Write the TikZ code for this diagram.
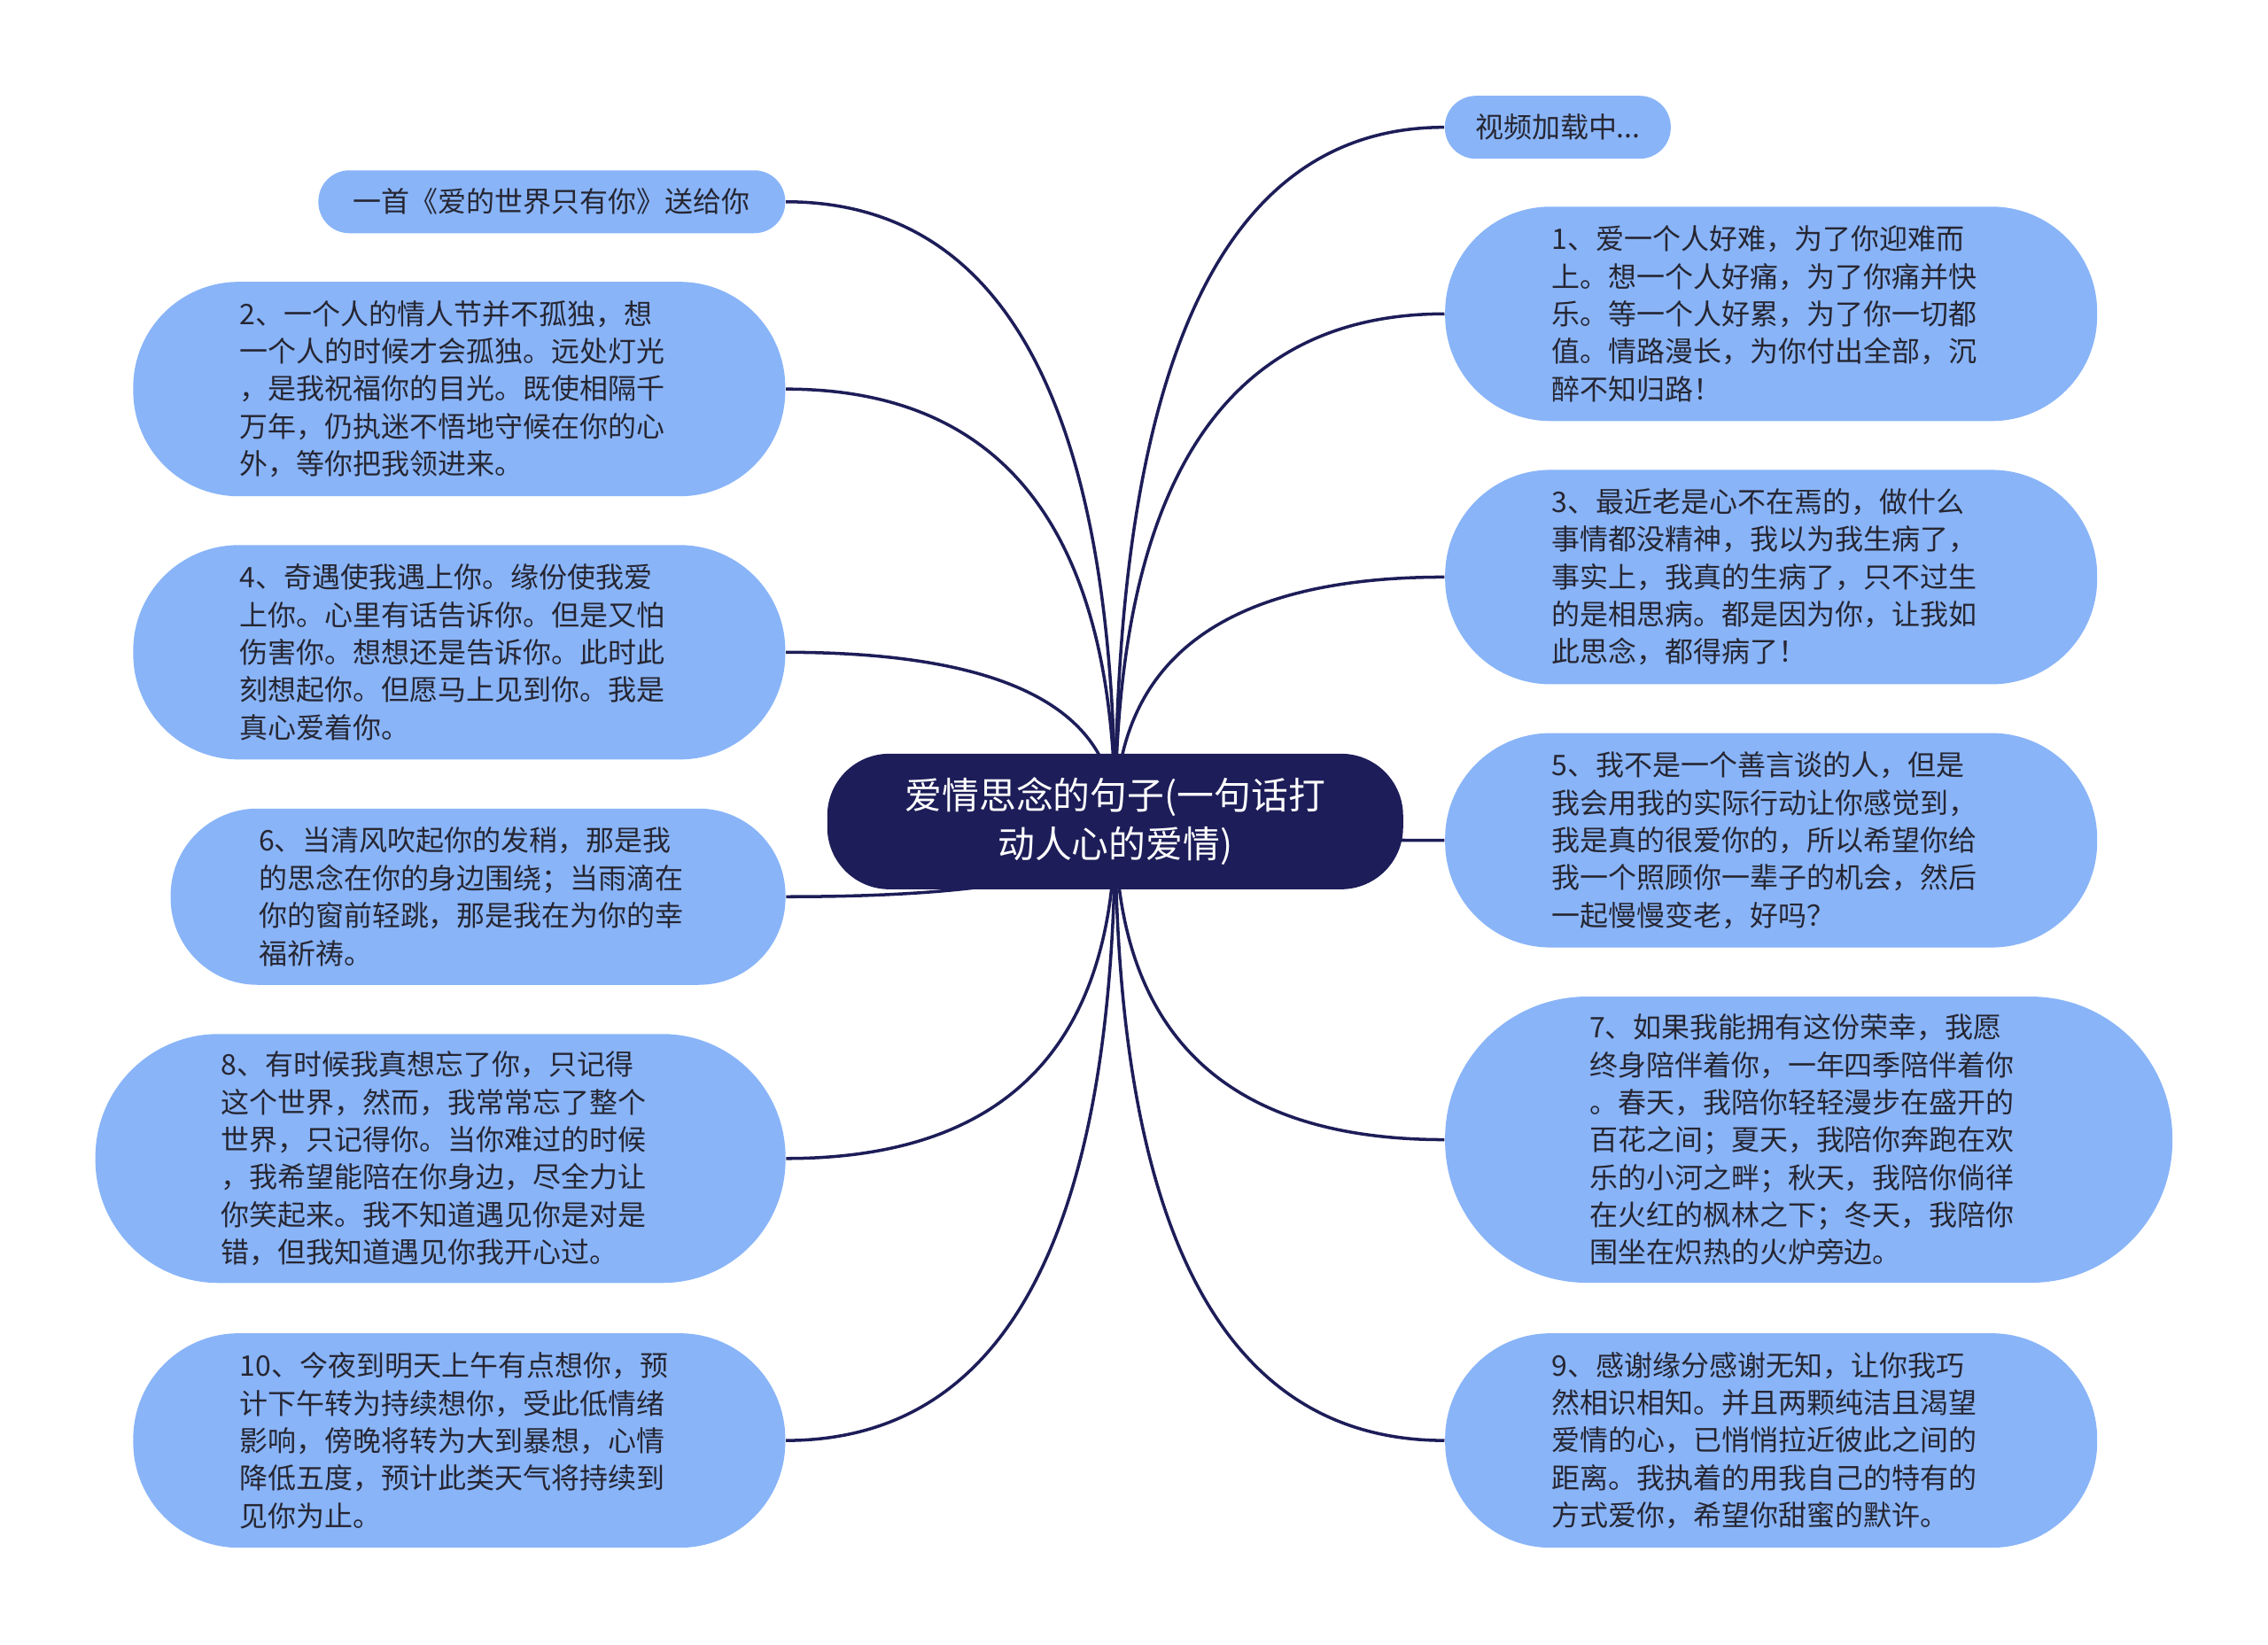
\documentclass[tikz,border=0pt]{standalone}
\usepackage{fontspec}
\newfontfamily\cjk{Noto Sans CJK SC}
\usetikzlibrary{calc,backgrounds}

\definecolor{hubnavy}{RGB}{29,29,89}
\definecolor{leafblue}{RGB}{137,180,248}
\definecolor{inkgray}{RGB}{38,38,50}

\tikzset{
  hub/.style={fill=hubnavy, text=white, font=\cjk\fontsize{11.9}{15.8}\selectfont,
    align=center, minimum width=6.5cm, minimum height=1.53cm, rounded corners=0.7cm},
  bubble/.style={fill=leafblue, text=inkgray, font=\cjk\fontsize{9.1}{12.05}\selectfont,
    text width=4.95cm, align=left, inner sep=0pt,
    minimum width=7.36cm, minimum height=2.42cm, rounded corners=1.19cm},
  tag/.style={fill=leafblue, text=inkgray, font=\cjk\fontsize{9.1}{12.05}\selectfont,
    inner sep=0pt, minimum height=0.71cm, rounded corners=0.35cm},
  link/.style={draw=hubnavy, line width=1pt}
}

\begin{document}
\begin{tikzpicture}[x=0.016327cm,y=-0.016327cm]
\useasboundingbox (0,0) rectangle (1568,1137);

\node[hub] (hub) at (771,568) {爱情思念的句子(一句话打\\动人心的爱情)};

\node[tag, minimum width=5.27cm] (l0) at (381.5,139.5) {一首《爱的世界只有你》送给你};
\node[bubble] (l1) at (317.5,269) {2、一个人的情人节并不孤独，想\\一个人的时候才会孤独。远处灯光\\，是我祝福你的目光。既使相隔千\\万年，仍执迷不悟地守候在你的心\\外，等你把我领进来。};
\node[bubble] (l2) at (317.5,451) {4、奇遇使我遇上你。缘份使我爱\\上你。心里有话告诉你。但是又怕\\伤害你。想想还是告诉你。此时此\\刻想起你。但愿马上见到你。我是\\真心爱着你。};
\node[bubble, minimum width=6.94cm, minimum height=1.99cm, rounded corners=0.98cm] (l3) at (330.5,620) {6、当清风吹起你的发稍，那是我\\的思念在你的身边围绕；当雨滴在\\你的窗前轻跳，那是我在为你的幸\\福祈祷。};
\node[bubble, minimum width=7.79cm, minimum height=2.81cm, rounded corners=1.39cm] (l4) at (304.5,801) {8、有时候我真想忘了你，只记得\\这个世界，然而，我常常忘了整个\\世界，只记得你。当你难过的时候\\，我希望能陪在你身边，尽全力让\\你笑起来。我不知道遇见你是对是\\错，但我知道遇见你我开心过。};
\node[bubble] (l5) at (317.5,996) {10、今夜到明天上午有点想你，预\\计下午转为持续想你，受此低情绪\\影响，傍晚将转为大到暴想，心情\\降低五度，预计此类天气将持续到\\见你为止。};

\node[tag, minimum width=2.55cm] (r0) at (1077,88) {视频加载中...};
\node[bubble] (r1) at (1224.5,217) {1、爱一个人好难，为了你迎难而\\上。想一个人好痛，为了你痛并快\\乐。等一个人好累，为了你一切都\\值。情路漫长，为你付出全部，沉\\醉不知归路！};
\node[bubble] (r2) at (1224.5,399) {3、最近老是心不在焉的，做什么\\事情都没精神，我以为我生病了，\\事实上，我真的生病了，只不过生\\的是相思病。都是因为你，让我如\\此思念，都得病了！};
\node[bubble] (r3) at (1224.5,581) {5、我不是一个善言谈的人，但是\\我会用我的实际行动让你感觉到，\\我是真的很爱你的，所以希望你给\\我一个照顾你一辈子的机会，然后\\一起慢慢变老，好吗？};
\node[bubble, minimum width=8.21cm, minimum height=3.23cm, rounded corners=1.6cm] (r4) at (1250.5,788) {7、如果我能拥有这份荣幸，我愿\\终身陪伴着你，一年四季陪伴着你\\。春天，我陪你轻轻漫步在盛开的\\百花之间；夏天，我陪你奔跑在欢\\乐的小河之畔；秋天，我陪你倘徉\\在火红的枫林之下；冬天，我陪你\\围坐在炽热的火炉旁边。};
\node[bubble] (r5) at (1224.5,996) {9、感谢缘分感谢无知，让你我巧\\然相识相知。并且两颗纯洁且渴望\\爱情的心，已悄悄拉近彼此之间的\\距离。我执着的用我自己的特有的\\方式爱你，希望你甜蜜的默许。};

\begin{scope}[on background layer]
\foreach \n in {l0,l1,l2,l3,l4,l5} {
  \coordinate (k-\n) at (hub.center |- \n.east);
  \draw[link] (hub.center) .. controls ($(hub.center)!.667!(k-\n)$) and ($(\n.east)!.667!(k-\n)$) .. (\n.east);
}
\foreach \n in {r0,r1,r2,r3,r4,r5} {
  \coordinate (k-\n) at (hub.center |- \n.west);
  \draw[link] (hub.center) .. controls ($(hub.center)!.667!(k-\n)$) and ($(\n.west)!.667!(k-\n)$) .. (\n.west);
}
\end{scope}
\end{tikzpicture}
\end{document}
